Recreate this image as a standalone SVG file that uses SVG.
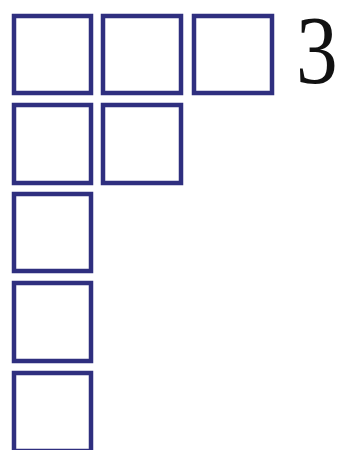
<svg xmlns="http://www.w3.org/2000/svg" width="344" height="450" viewBox="0 0 344 450">
<style>
.cell{fill:#ffffff;stroke:#2f2f7f;stroke-width:4.5}
.lbl{font-family:"Liberation Serif",serif;font-size:97px;fill:#111111}
</style>
<rect width="344" height="450" fill="#ffffff"/>
<g id="r1c1"><rect class="cell" x="14" y="16" width="77" height="77"/></g>
<g id="r1c2"><rect class="cell" x="103" y="16" width="78" height="77"/></g>
<g id="r1c3"><rect class="cell" x="194" y="16" width="78" height="77"/></g>
<g id="r2c1"><rect class="cell" x="14" y="105" width="77" height="78"/></g>
<g id="r2c2"><rect class="cell" x="103" y="105" width="78" height="78"/></g>
<g id="r3c1"><rect class="cell" x="14" y="194" width="77" height="77"/></g>
<g id="r4c1"><rect class="cell" x="14" y="283" width="77" height="78"/></g>
<g id="r5c1"><rect class="cell" x="14" y="373" width="77" height="78"/></g>
<g id="label"><text class="lbl" transform="translate(296,83) scale(0.86,1)" x="0" y="0">3</text></g>
<g id="connectors"/>
</svg>
